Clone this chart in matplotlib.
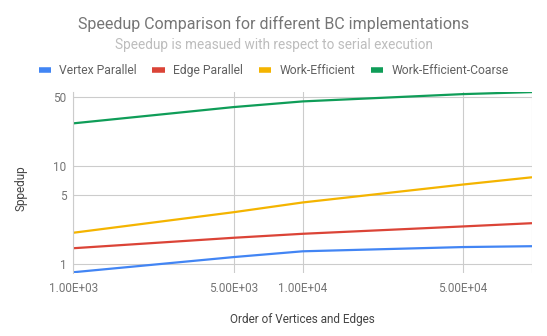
import matplotlib
matplotlib.use("Agg")
import matplotlib.pyplot as plt
from matplotlib.ticker import FixedLocator, NullLocator

plt.rcParams["font.family"] = ["Roboto", "DejaVu Sans"]

# problem size (vertices + edges) and measured speedups over serial BC
sizes = [1e3, 5e3, 1e4, 5e4, 1e5]
vertex_parallel = [0.82, 1.17, 1.34, 1.48, 1.51]
edge_parallel = [1.44, 1.84, 2.02, 2.40, 2.59]
work_efficient = [2.07, 3.35, 4.21, 6.41, 7.6]
work_efficient_coarse = [26.9, 39.4, 45.0, 53.4, 56.0]

series = [
    ("Vertex Parallel", vertex_parallel, "#4285F4"),
    ("Edge Parallel", edge_parallel, "#DB4437"),
    ("Work-Efficient", work_efficient, "#F4B400"),
    ("Work-Efficient-Coarse", work_efficient_coarse, "#0F9D58"),
]

x_ticks = [1e3, 5e3, 1e4, 5e4, 1e5]
x_tick_labels = ["1.00E+03", "5.00E+03", "1.00E+04", "5.00E+04", ""]
y_ticks = [1, 5, 10, 50]
y_tick_labels = ["1", "5", "10", "50"]

W, H = 547, 336
fig = plt.figure(figsize=(W / 100, H / 100), dpi=100)
ax = fig.add_axes([73.3 / W, 1 - 273.3 / H, (532 - 73.3) / W, (273.3 - 91.7) / H])

for name, vals, color in series:
    ax.plot(sizes, vals, color=color, lw=1.6, label=name, solid_capstyle="butt")

ax.set_xscale("log")
ax.set_yscale("log")
ax.set_xlim(1e3, 1e5)
ax.set_ylim(0.80, 56.5)

ax.xaxis.set_major_locator(FixedLocator(x_ticks))
ax.xaxis.set_minor_locator(NullLocator())
ax.set_xticklabels(x_tick_labels)
ax.yaxis.set_major_locator(FixedLocator(y_ticks))
ax.yaxis.set_minor_locator(NullLocator())
ax.set_yticklabels(y_tick_labels)

ax.grid(True, color="#CCCCCC", lw=0.8)
ax.set_axisbelow(True)
for side in ["top", "right", "bottom"]:
    ax.spines[side].set_visible(False)
ax.spines["left"].set_color("#CCCCCC")
ax.spines["left"].set_linewidth(0.8)

ax.tick_params(axis="both", length=0, labelsize=8.5, labelcolor="#757575")
ax.tick_params(axis="x", pad=6)
ax.tick_params(axis="y", pad=5)

ax.set_xlabel("Order of Vertices and Edges", fontsize=8.5, color="#444444", labelpad=13)
ax.set_ylabel("Sppedup", fontsize=8.5, color="#444444")
ax.yaxis.set_label_coords((27.5 - 73.3) / 458.7, (273.3 - 188) / 181.6)

fig.text(0.5, 1 - 23.7 / H, "Speedup Comparison for different BC implementations",
         ha="center", va="center", fontsize=11.5, color="#757575")
fig.text(0.5, 1 - 44.6 / H, "Speedup is measued with respect to serial execution",
         ha="center", va="center", fontsize=9.8, color="#BDBDBD")

fig.legend(loc="center", bbox_to_anchor=(0.5, 1 - 70.7 / H), ncol=4, frameon=False,
           fontsize=8.7, labelcolor="#616161", handlelength=1.0, handletextpad=0.7,
           columnspacing=1.3, borderaxespad=0)
for h in fig.legends[0].legend_handles:
    h.set_linewidth(4)

fig.savefig("out.png", dpi=100)
